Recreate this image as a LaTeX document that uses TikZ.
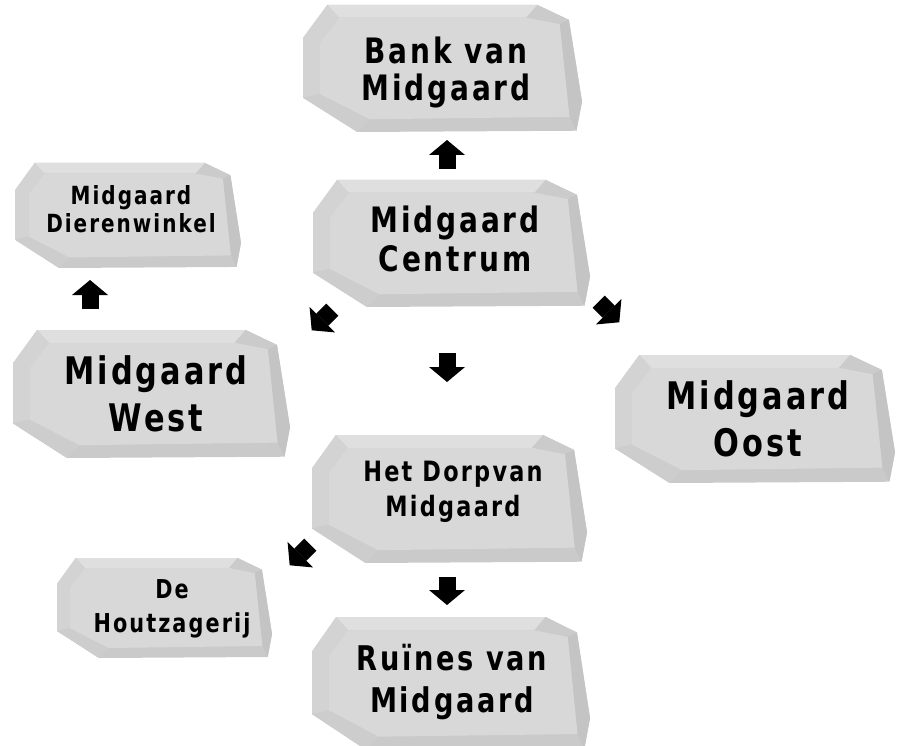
\documentclass[tikz,border=0pt]{standalone}
\usepackage{fontspec}
\newfontfamily\stonefont{DejaVu Sans}[FakeStretch=0.8,LetterSpace=8]
\usetikzlibrary{arrows.meta}
\definecolor{sface}{HTML}{D8D8D8}
\definecolor{stop}{HTML}{DFDFDF}
\definecolor{sleft}{HTML}{D3D3D3}
\definecolor{scorner}{HTML}{CBCBCB}
\definecolor{sright}{HTML}{C4C4C4}
\definecolor{sbottom}{HTML}{CACACA}
\definecolor{sbl}{HTML}{CDCDCD}
\newcommand\stone[4]{%
  \pgfmathsetmacro\sa{#1}\pgfmathsetmacro\sb{#2}%
  \pgfmathsetmacro\sw{#3-#1}\pgfmathsetmacro\sh{#4-#2}%
  \foreach \n/\u/\v in {o1/0.087/0, o2/0.84/0, o3/0.953/0.117, o4/1/0.76, o5/0.98/0.99, o6/0.195/1, o7/0/0.73, o8/0/0.26,
                        f1/0.13/0.1, f2/0.8/0.1, f3/0.92/0.15, f4/0.955/0.88, f5/0.24/0.9, f6/0.06/0.7, f7/0.06/0.3}
    {\coordinate (\n) at ({\sa+\u*\sw},{\sb+\v*\sh});}
  \fill[sbottom] (o1)--(o2)--(o3)--(o4)--(o5)--(o6)--(o7)--(o8)--cycle;
  \fill[stop] (o1)--(o2)--(f2)--(f1)--cycle;
  \fill[sleft] (o8)--(o1)--(f1)--(f7)--(f6)--(o7)--cycle;
  \fill[scorner] (o2)--(o3)--(f3)--(f2)--cycle;
  \fill[sright] (o3)--(o4)--(o5)--(f4)--(f3)--cycle;
  \fill[sbl] (o6)--(o7)--(f6)--(f5)--cycle;
  \fill[sface] (f1)--(f2)--(f3)--(f4)--(f5)--(f6)--(f7)--cycle;
}
\tikzset{
  txt/.style={align=center, inner sep=0pt, text=black},
  blk/.style={line width=17pt, -{Triangle[width=36pt,length=15pt,line width=0pt]}},
}
\newcommand\sz[2]{\stonefont\bfseries\fontsize{#1}{#2}\selectfont}
\begin{document}
\begin{tikzpicture}[x=1pt,y=-1pt]
\useasboundingbox (0,0) rectangle (900,746);
\fill[white] (0,0) rectangle (900,746);
% stones
\stone{303}{5}{582}{132}
\stone{15}{163}{241}{268}
\stone{313}{180}{590}{307}
\stone{13}{330}{290}{458}
\stone{615}{355}{895}{483}
\stone{312}{435}{587}{563}
\stone{57}{558}{272}{658}
\stone{312}{617}{590}{750}
% labels
\node[txt, font=\sz{35}{37}] (bank) at (446,72) {Bank van\\Midgaard};
\node[txt, font=\sz{25}{28}] (dier) at (131,209.5) {Midgaard\\Dierenwinkel};
\node[txt, font=\sz{35}{39}] (cen) at (455,239) {Midgaard\\Centrum};
\node[txt, font=\sz{38}{47}] (west) at (156,394) {Midgaard\\West};
\node[txt, font=\sz{38}{47}] (oost) at (758,419) {Midgaard\\Oost};
\node[txt, font=\sz{28}{35}] (dorp) at (453,492) {Het Dorpvan\\Midgaard};
\node[txt, font=\sz{26}{34}] (houtz) at (172,608.5) {De\\Houtzagerij};
\node[txt, font=\sz{34}{42}] (ruin) at (452,682) {Ruïnes van\\Midgaard};
% arrow end points
\coordinate (a1s) at (447,169); \coordinate (a1e) at (447,140);
\coordinate (a2s) at (90,309);  \coordinate (a2e) at (90,280);
\coordinate (a3s) at (332.3,309.7); \coordinate (a3e) at (311.7,330.3);
\coordinate (a4s) at (598.7,301.7); \coordinate (a4e) at (619.3,322.3);
\coordinate (a5s) at (447,353); \coordinate (a5e) at (447,382);
\coordinate (a6s) at (310.3,544.7); \coordinate (a6e) at (289.7,565.3);
\coordinate (a7s) at (447,577); \coordinate (a7e) at (447,605);
\draw[blk] (a1s) -- (a1e);
\draw[blk] (a2s) -- (a2e);
\draw[blk] (a3s) -- (a3e);
\draw[blk] (a4s) -- (a4e);
\draw[blk] (a5s) -- (a5e);
\draw[blk] (a6s) -- (a6e);
\draw[blk] (a7s) -- (a7e);
\end{tikzpicture}
\end{document}
